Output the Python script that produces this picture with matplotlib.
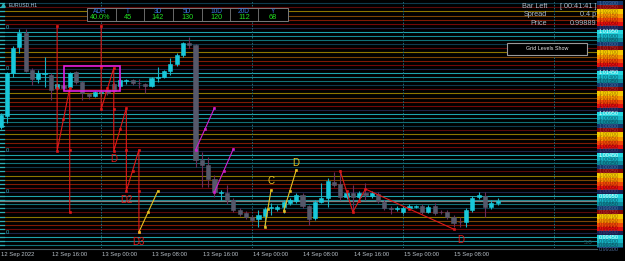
import matplotlib
matplotlib.use("Agg")
import matplotlib.pyplot as plt
import matplotlib.transforms as mtransforms
from matplotlib.patches import Rectangle

plt.rcParams["font.family"] = ["Liberation Sans", "DejaVu Sans"]

# EURUSD H1 bars, 12 Sep 2022 08:00 -> 15 Sep 2022 15:00
opens = [1.00791, 1.00925, 1.01450, 1.01767, 1.01938, 1.01486, 1.01377, 1.01438, 1.01425, 1.01267,
         1.01303, 1.01279, 1.01462, 1.01340, 1.01194, 1.01169, 1.01212, 1.01242, 1.01316, 1.01291,
         1.01352, 1.01364, 1.01328, 1.01316, 1.01291, 1.01389, 1.01401, 1.01474, 1.01560, 1.01669,
         1.01816, 1.01791, 1.00389, 1.00328, 1.00157, 0.99986, 0.99986, 0.99901, 0.99779, 0.99742,
         0.99694, 0.99669, 0.99706, 0.99803, 0.99791, 0.99816, 0.99864, 0.99889, 0.99962, 0.99828,
         0.99681, 0.99877, 0.99925, 1.00121, 1.00096, 0.99938, 0.99986, 0.99938, 0.99986, 0.99950,
         0.99974, 0.99877, 0.99803, 0.99797, 0.99755, 0.99803, 0.99822, 0.99828, 0.99755, 0.99828,
         0.99755, 0.99755, 0.99694, 0.99633, 0.99633, 0.99779, 0.99938, 0.99950, 0.99816, 0.99864]
highs = [1.00962, 1.01462, 1.01779, 1.01986, 1.01986, 1.01511, 1.01486, 1.01645, 1.01450, 1.01328,
         1.01316, 1.01462, 1.01474, 1.01352, 1.01206, 1.01230, 1.01242, 1.01267, 1.01340, 1.01389,
         1.01377, 1.01377, 1.01377, 1.01328, 1.01401, 1.01523, 1.01486, 1.01633, 1.01694, 1.01828,
         1.01889, 1.01803, 1.00486, 1.00425, 1.00206, 1.00023, 1.00084, 0.99925, 0.99803, 0.99767,
         0.99718, 0.99779, 0.99816, 0.99864, 0.99840, 0.99901, 0.99925, 0.99986, 0.99986, 0.99840,
         0.99901, 1.00108, 1.00169, 1.00243, 1.00267, 1.00011, 1.00084, 1.00011, 1.00108, 1.00011,
         0.99999, 0.99901, 0.99828, 0.99828, 0.99828, 0.99852, 0.99840, 0.99852, 0.99840, 0.99864,
         0.99779, 0.99779, 0.99718, 0.99694, 0.99803, 0.99950, 0.99999, 0.99999, 0.99901, 0.99925]
lows = [1.00767, 1.00840, 1.01401, 1.01694, 1.01462, 1.01303, 1.01328, 1.01279, 1.01121, 1.01242,
        1.01242, 1.01255, 1.01316, 1.01121, 1.01133, 1.01157, 1.01169, 1.01182, 1.01206, 1.01267,
        1.01316, 1.01303, 1.01267, 1.01206, 1.01279, 1.01340, 1.01389, 1.01425, 1.01535, 1.01645,
        1.01755, 1.00303, 1.00060, 1.00060, 0.99938, 0.99901, 0.99852, 0.99755, 0.99706, 0.99669,
        0.99633, 0.99572, 0.99572, 0.99718, 0.99767, 0.99742, 0.99840, 0.99864, 0.99803, 0.99596,
        0.99657, 0.99864, 0.99816, 1.00060, 0.99901, 0.99913, 0.99779, 0.99913, 0.99901, 0.99925,
        0.99864, 0.99779, 0.99730, 0.99767, 0.99730, 0.99791, 0.99803, 0.99730, 0.99742, 0.99718,
        0.99730, 0.99669, 0.99572, 0.99572, 0.99572, 0.99755, 0.99913, 0.99694, 0.99791, 0.99840]
closes = [1.00938, 1.01450, 1.01755, 1.01938, 1.01474, 1.01377, 1.01450, 1.01450, 1.01242, 1.01316,
          1.01267, 1.01450, 1.01340, 1.01206, 1.01169, 1.01218, 1.01218, 1.01206, 1.01230, 1.01364,
          1.01364, 1.01328, 1.01322, 1.01291, 1.01389, 1.01401, 1.01474, 1.01560, 1.01669, 1.01816,
          1.01791, 1.00389, 1.00328, 1.00157, 0.99999, 0.99992, 0.99901, 0.99779, 0.99730, 0.99694,
          0.99657, 0.99718, 0.99791, 0.99809, 0.99816, 0.99877, 0.99901, 0.99962, 0.99828, 0.99669,
          0.99877, 0.99925, 1.00133, 1.00084, 0.99938, 0.99986, 0.99938, 0.99986, 0.99962, 0.99986,
          0.99889, 0.99803, 0.99797, 0.99803, 0.99803, 0.99828, 0.99828, 0.99755, 0.99816, 0.99742,
          0.99749, 0.99694, 0.99620, 0.99627, 0.99779, 0.99925, 0.99962, 0.99816, 0.99864, 0.99889]

time_ticks = [0, 8, 16, 24, 32, 40, 48, 56, 64, 72]
time_labels = ["12 Sep 2022", "12 Sep 16:00", "13 Sep 00:00", "13 Sep 08:00", "13 Sep 16:00",
               "14 Sep 00:00", "14 Sep 08:00", "14 Sep 16:00", "15 Sep 00:00", "15 Sep 08:00"]
day_lines = [16, 40, 64, 88]

# grid levels every 5 points (in units of 0.0005)
level_first = 1986
level_last = 2046

# harmonic pattern legs (bar index, price)
red1_x = [9, 9, 11, 11]
red1_y = [1.02023, 1.00499, 1.01267, 0.99755]
red2_x = [16, 16, 18, 18, 20, 20, 22, 22]
red2_y = [1.02023, 1.01011, 1.01511, 1.00499, 1.01023, 1.00011, 1.00511, 0.99511]
red3_x = [54, 56, 58, 72]
red3_y = [1.00255, 0.99755, 1.00035, 0.99547]
yellow_legs = [([22, 25], [0.99511, 1.00011]),
               ([42, 43], [0.99572, 1.00023]),
               ([45, 47], [0.99767, 1.00267])]
magenta_legs = [([31, 34], [1.00511, 1.01023]),
                ([34, 37], [0.99999, 1.00523])]
box_bars = [10.1, 19.0]
box_prices = [1.01230, 1.01539]

# (text, bar, price, color, dx px, dy px)
pattern_labels = [("D", 18, 1.00499, "#e01818", 0, -8),
                  ("D2", 20, 1.00011, "#e01818", 0.5, -8.5),
                  ("D3", 22, 0.99511, "#e01818", 0, -9.5),
                  ("C", 43, 1.00023, "#e8c020", 0, 9.5),
                  ("D", 47, 1.00267, "#e8c020", 0, 7.5),
                  ("D", 72, 0.99547, "#e01818", 7, -10.5)]

adr_heads = ["ADR", "T", "3D", "5D", "10D", "20D", "Y"]
adr_values = ["40.0%", "45", "142", "130", "120", "112", "68"]

line_colors = ["#1c2448", "#700808", "#801a04", "#7c4404", "#8c7600",
               "#5a0a0a", "#0e3a4c", "#107078", "#168a94", "#1ea2ac"]
box_colors = ["#182050", "#e01010", "#f04808", "#f49000", "#f4c800",
              "#800808", "#12386c", "#0f8a9a", "#16b6c6", "#24d6de"]
text_colors = ["#34407a", "#8a0000", "#a02800", "#a85800", "#a88000",
               "#b03030", "#4a6a9a", "#075060", "#0a6070", "#e0ffff"]

fig = plt.figure(figsize=(6.25, 2.61), dpi=100, facecolor="black")
ax = fig.add_axes([0, 13 / 261, 597 / 625, 248 / 261])
ax.set_facecolor("black")
ax.set_xlim(-0.08, 94.8)
ax.set_ylim(0.99316, 1.02340)
ax.axis("off")

ax_scale = fig.add_axes([597 / 625, 13 / 261, 28 / 625, 248 / 261], sharey=ax)
ax_scale.set_facecolor("black")
ax_scale.set_xlim(0, 1)
ax_scale.axis("off")

left_edge = mtransforms.blended_transform_factory(ax.transAxes, ax.transData)

for n in range(level_first, level_last + 1):
    lev = n * 0.0005
    k = n % 10
    ax.axhline(lev, color=line_colors[k], lw=0.8, zorder=1)
    ax.plot([0, 0.006], [lev, lev], color="#2ab0b8", lw=0.9, transform=left_edge, zorder=2)
    if k == 0:
        ax.text(0.009, lev + 0.0001, "0", color="#2ab0b8", fontsize=4.2, transform=left_edge,
                va="center", ha="left", zorder=2)
    ax_scale.add_patch(Rectangle((0, lev - 0.00025), 0.93, 0.0005, facecolor=box_colors[k],
                                 edgecolor="none"))
    ax_scale.text(0.05, lev, "%.5f" % lev, color=text_colors[k], fontsize=4.0, va="center", ha="left")

for d in day_lines:
    ax.axvline(d, color="#1e6a78", lw=0.7, ls=(0, (1.5, 1.5)), zorder=1)

ax.axhline(closes[-1], color="#808080", lw=0.9, zorder=1)

# candles
for i in range(len(opens)):
    o, h, l, c = opens[i], highs[i], lows[i], closes[i]
    if c >= o:
        body, wick = "#18c8da", "#18b4c4"
    else:
        body, wick = "#55586a", "#6a2c58"
    ax.vlines(i, l, h, color=wick, lw=0.8, zorder=3)
    bottom = min(o, c)
    height = max(abs(c - o), 0.00012)
    ax.add_patch(Rectangle((i - 0.33, bottom), 0.66, height, facecolor=body, edgecolor=body,
                           lw=0.4, zorder=3))


def draw_legs(xs, ys, color):
    ax.plot(xs, ys, color=color, lw=0.8, zorder=4)
    mx = [(xs[j] + xs[j + 1]) / 2 for j in range(len(xs) - 1)]
    my = [(ys[j] + ys[j + 1]) / 2 for j in range(len(ys) - 1)]
    ax.plot(xs + mx, ys + my, "s", ms=1.5, color=color, mec=color, mew=0.4, zorder=5)


draw_legs(red1_x, red1_y, "#e01818")
draw_legs(red2_x, red2_y, "#e01818")
draw_legs(red3_x, red3_y, "#e01818")
for xs, ys in yellow_legs:
    draw_legs(xs, ys, "#e8c020")
for xs, ys in magenta_legs:
    draw_legs(xs, ys, "#d020d0")

ax.add_patch(Rectangle((box_bars[0], box_prices[0]), box_bars[1] - box_bars[0],
                       box_prices[1] - box_prices[0], fill=False, edgecolor="#e020e0", lw=1.2, zorder=5))

for txt, bx, py, col, dx, dy in pattern_labels:
    ax.annotate(txt, (bx, py), xytext=(dx * 0.72, dy * 0.72), textcoords="offset points",
                color=col, fontsize=7, ha="center", va="center", zorder=6)

bottom_edge = mtransforms.blended_transform_factory(ax.transData, ax.transAxes)
for t, lab in zip(time_ticks, time_labels):
    ax.annotate(lab, (t, 0), xycoords=bottom_edge, xytext=(0.6, -3.0), textcoords="offset points",
                color="#b8c0c8", fontsize=4.2, ha="left", va="top", annotation_clip=False)

# overlay in pixel units for the terminal widgets
ov = fig.add_axes([0, 0, 1, 1], zorder=10)
ov.set_xlim(0, 625)
ov.set_ylim(261, 0)
ov.axis("off")
ov.patch.set_alpha(0)

ov.plot([0, 597], [248.5, 248.5], color="#4a5a60", lw=0.8)
ov.plot([3], [4.5], marker="^", ms=2.5, color="#2ab0b8")
ov.text(9, 5, "EURUSD,H1", color="#a8c8e0", fontsize=3.7, va="center", ha="left")

ov.add_patch(Rectangle((87, 8), 201, 13, facecolor="black", edgecolor="#7a7a7a", lw=0.7))
for xd in [116, 144, 173, 202, 230, 258]:
    ov.plot([xd, xd], [8, 21], color="#7a7a7a", lw=0.6)
for xc, hd, val in zip([100, 128, 158, 187, 216, 244, 273], adr_heads, adr_values):
    ov.text(xc, 11.2, hd, color="#3a78e0", fontsize=4.7, ha="center", va="center")
    ov.text(xc, 17.4, val, color="#22e022", fontsize=5.2, ha="center", va="center")

ov.text(547, 6.5, "Bar Left", color="#aab8c4", fontsize=5.2, ha="right", va="center")
ov.text(547, 15, "Spread", color="#aab8c4", fontsize=5.2, ha="right", va="center")
ov.text(547, 23.5, "Price", color="#aab8c4", fontsize=5.2, ha="right", va="center")
ov.text(596, 6.5, "[ 00:41:41 ]", color="#aab8c4", fontsize=5.2, ha="right", va="center")
ov.text(596, 15, "0.4 p", color="#aab8c4", fontsize=5.2, ha="right", va="center")
ov.text(596, 23.5, "%.5f" % closes[-1], color="#aab8c4", fontsize=5.2, ha="right", va="center")

ov.add_patch(Rectangle((507, 43), 80, 12, facecolor="black", edgecolor="#9a9a9a", lw=0.8))
ov.text(547, 49, "Grid Levels Show", color="#e8e8e8", fontsize=3.9, ha="center", va="center")
ov.text(588, 243, "5.0", color="#2a6068", fontsize=4.5, ha="center", va="center")

fig.savefig("out.png", dpi=100, facecolor="black")
